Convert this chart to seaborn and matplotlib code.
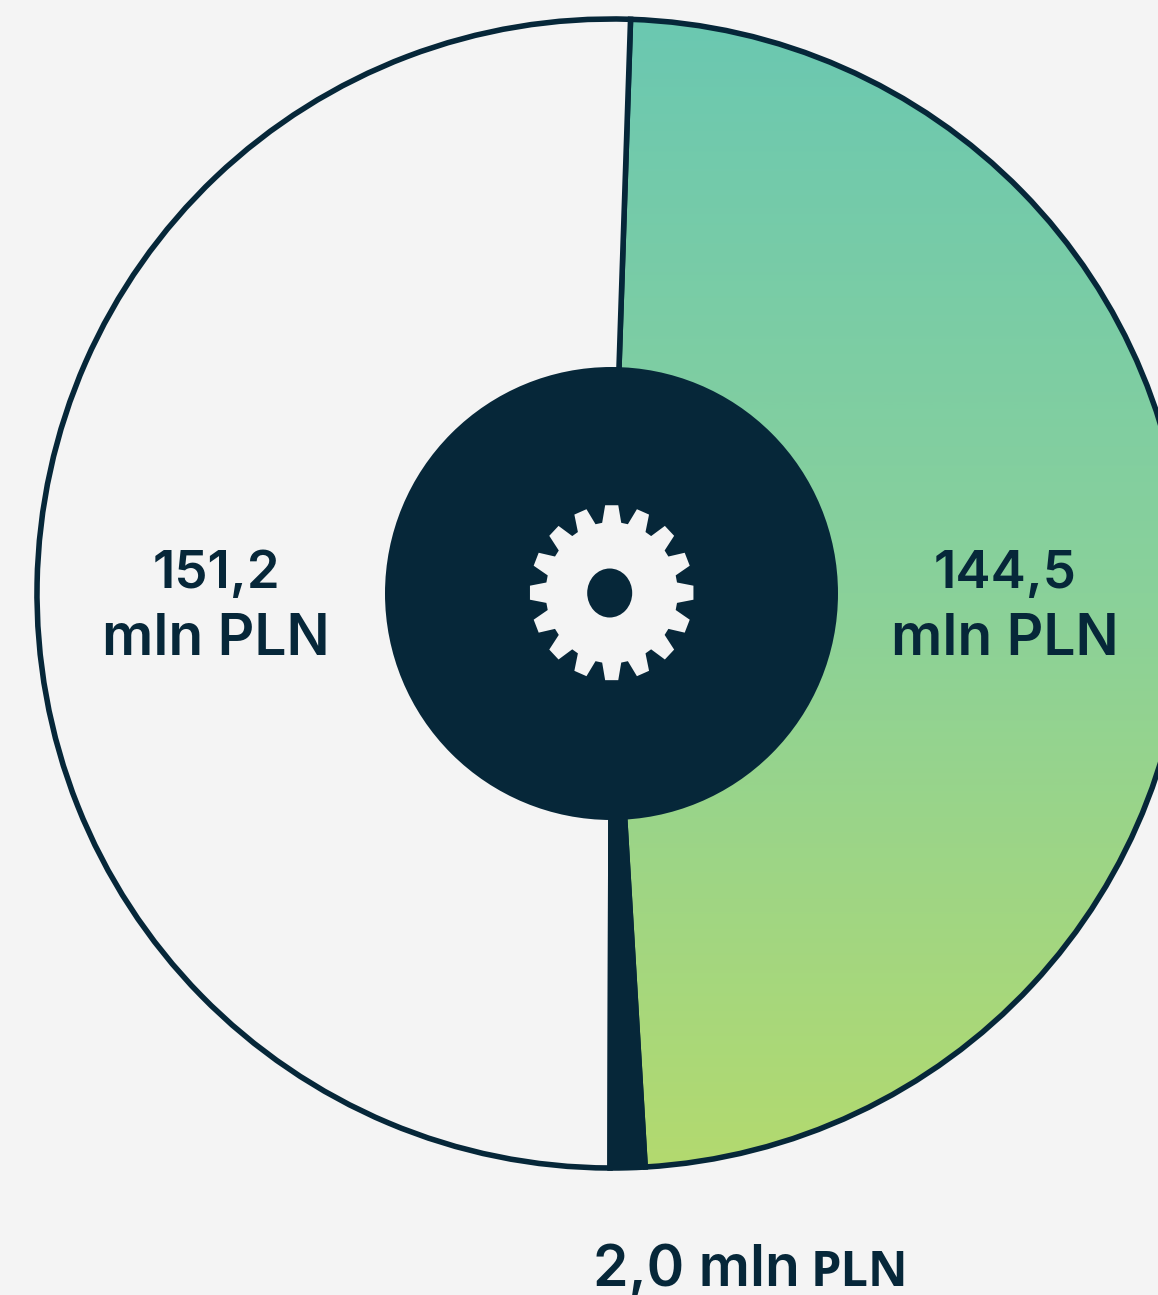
import numpy as np
import matplotlib
matplotlib.use("Agg")
import matplotlib.pyplot as plt
from matplotlib.patches import Circle, Ellipse, Polygon
import seaborn as sns

W, H = 1158, 1295
BG = "#F4F4F4"
DARK = "#062739"

# clockwise from the top: green part, thin dark part, light part
categories = ["green", "thin", "light"]
amounts = [144.5, 2.0, 151.2]
# the thin slice is drawn wider than its 2,0 in the picture, so the pie uses these
slice_sizes = [144.5, 2.9, 150.3]
value_labels = ["144,5", "2,0 mln", "151,2"]
unit_label = "mln PLN"
unit_short = "PLN"
gradient_colors = ["#6BC8B1", "#8AD19A", "#B3DA6F"]

sns.set_theme(style="white")
plt.rcParams["font.family"] = ["Inter", "DejaVu Sans"]

fig = plt.figure(figsize=(W / 100, H / 100), dpi=100, facecolor=BG)
ax = fig.add_axes([0, 0, 1, 1])
ax.set_facecolor(BG)

cx, cy = 611.5, H - 593.5
R = 574.5

wedges, _ = ax.pie(
    slice_sizes,
    colors=["none", DARK, BG],
    center=(cx, cy),
    radius=R,
    startangle=88.1,
    counterclock=False,
    frame=False,
    wedgeprops=dict(edgecolor=DARK, linewidth=4),
)
for w in wedges:
    w.set_zorder(3)
wedges[1].set_zorder(4)

# vertical gradient clipped to the green slice
cmap = sns.blend_palette(gradient_colors, as_cmap=True)
grad = np.linspace(0, 1, 400).reshape(-1, 1)
im = ax.imshow(grad, cmap=cmap, extent=(cx - R, cx + R, cy - R, cy + R),
               origin="upper", aspect="auto", zorder=2)
im.set_clip_path(wedges[0])

# centre disc
ax.add_patch(Circle((cx, cy), 226.5, facecolor=DARK, edgecolor="none", zorder=5))

# gear icon, slightly taller than wide like in the original
gx, gy = 611.7, H - 592.7
n_teeth = 16
pts = []
for i in range(n_teeth):
    a = np.pi / 2 - i * 2 * np.pi / n_teeth
    for da, r in [(0.145, 66), (0.08, 82), (-0.08, 82), (-0.145, 66)]:
        pts.append((gx + r * np.cos(a + da), gy + 1.07 * r * np.sin(a + da)))
ax.add_patch(Polygon(pts, closed=True, facecolor=BG, edgecolor="none", zorder=6))
ax.add_patch(Ellipse((609.7, H - 593), 45, 49, facecolor=DARK, edgecolor="none", zorder=7))

# labels
num_font = dict(color=DARK, fontsize=38, fontweight=600, va="baseline", zorder=8)
unit_font = dict(color=DARK, fontsize=41, fontweight=600, va="baseline", zorder=8)
ax.text(216, H - 588, value_labels[2], ha="center", **num_font)
ax.text(216, H - 655, unit_label, ha="center", **unit_font)
ax.text(1005, H - 588, value_labels[0], ha="center", **num_font)
ax.text(1005, H - 655, unit_label, ha="center", **unit_font)
ax.text(593, H - 1286, value_labels[1], ha="left", **unit_font)
ax.text(811, H - 1286, unit_short, ha="left", color=DARK, fontsize=35,
        fontweight="bold", family="Open Sans", va="baseline", zorder=8)

ax.set_xlim(0, W)
ax.set_ylim(0, H)
ax.set_aspect("equal")
ax.axis("off")

fig.savefig("out.png", dpi=100, facecolor=BG)
